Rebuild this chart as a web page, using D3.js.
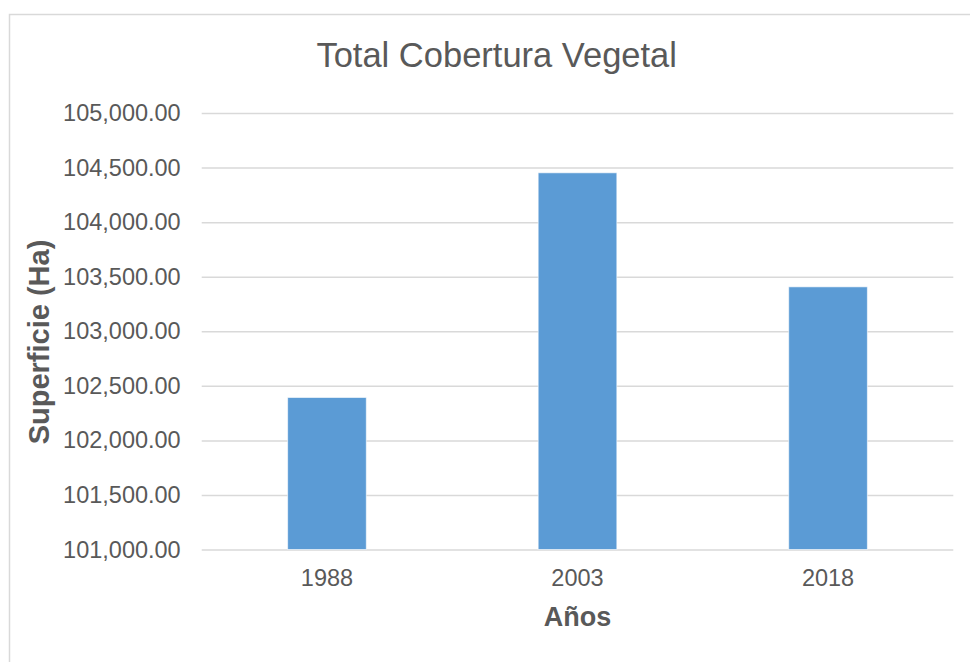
<!DOCTYPE html>
<html>
<head>
<meta charset="utf-8">
<script src="https://cdn.jsdelivr.net/npm/d3@7"></script>
<style>
    body { margin: 0; background: #fff; }
    text { font-family: "Liberation Sans", Arial, sans-serif; fill: #595959; }
</style>
</head>
<body>
<div id="chart"></div>
<script>
const widthChart = 970;
const heightChart = 662;

// data
const years = ["1988", "2003", "2018"];
const superficie = [102393, 104452, 103407];
const yTicks = [101000, 101500, 102000, 102500, 103000, 103500, 104000, 104500, 105000];

const chartTitle = "Total Cobertura Vegetal";
const xTitle = "Años";
const yTitle = "Superficie (Ha)";

const plot = { left: 201.7, right: 953.3, top: 113, bottom: 549.5 };

const svg = d3.select("#chart")
    .append("svg")
    .attr("width", widthChart)
    .attr("height", heightChart);

// chart border
svg.append("rect")
    .attr("x", 9.5)
    .attr("y", 14.5)
    .attr("width", 980)
    .attr("height", 700)
    .attr("fill", "none")
    .attr("stroke", "#d9d9d9")
    .attr("stroke-width", 1.5);

var y = d3.scaleLinear()
    .domain([101000, 105000])
    .range([plot.bottom, plot.top]);

var x = d3.scaleBand()
    .domain(years)
    .range([plot.left, plot.right])
    .paddingInner(0.686)
    .paddingOuter(0.343);

// gridlines + tick labels
var yAxis = d3.axisLeft(y)
    .tickValues(yTicks)
    .tickSize(-(plot.right - plot.left))
    .tickPadding(21)
    .tickFormat(d3.format(",.2f"));

var gy = svg.append("g")
    .attr("transform", "translate(" + plot.left + ",0)")
    .call(yAxis);
gy.select(".domain").remove();
gy.selectAll(".tick line")
    .attr("stroke", "#d9d9d9")
    .attr("stroke-width", 1.5);
gy.selectAll(".tick text")
    .style("font-size", "23.5px")
    .attr("fill", "#595959");

// bars
svg.selectAll(".bar")
    .data(years)
    .enter()
    .append("rect")
    .attr("class", "bar")
    .attr("x", d => x(d))
    .attr("width", x.bandwidth())
    .attr("y", (d, i) => y(superficie[i]))
    .attr("height", (d, i) => y(101000) - y(superficie[i]))
    .attr("fill", "#5b9bd5")
    .attr("stroke", "#ffffff")
    .attr("stroke-opacity", 0.6)
    .attr("stroke-width", 1);

// x labels
var xAxis = d3.axisBottom(x).tickSize(0).tickPadding(0);
var gx = svg.append("g")
    .attr("transform", "translate(0," + plot.bottom + ")")
    .call(xAxis);
gx.select(".domain").remove();
gx.selectAll(".tick text")
    .attr("dy", null)
    .attr("y", 36.5)
    .style("font-size", "23.5px")
    .attr("fill", "#595959");

// titles
svg.append("text")
    .attr("x", 496.7)
    .attr("y", 66.7)
    .attr("text-anchor", "middle")
    .style("font-size", "34.5px")
    .text(chartTitle);

svg.append("text")
    .attr("x", (plot.left + plot.right) / 2)
    .attr("y", 626)
    .attr("text-anchor", "middle")
    .style("font-size", "27px")
    .style("font-weight", "bold")
    .text(xTitle);

svg.append("text")
    .attr("transform", "translate(48.5,342) rotate(-90)")
    .attr("text-anchor", "middle")
    .style("font-size", "29px")
    .style("font-weight", "bold")
    .text(yTitle);
</script>
</body>
</html>
